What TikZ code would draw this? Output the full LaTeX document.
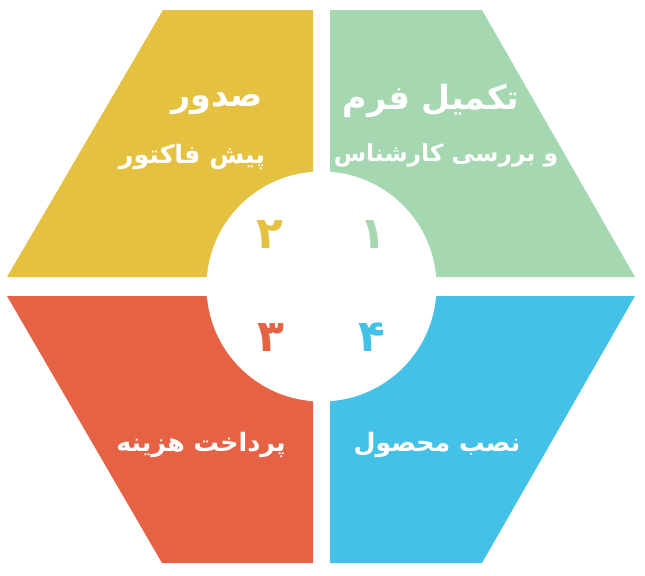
\documentclass[tikz,border=0pt]{standalone}
\usepackage{fontspec}
\newfontfamily\fafont[Script=Arabic]{DejaVu Sans}
\TeXXeTstate=1
\definecolor{cyellow}{RGB}{229,193,66}
\definecolor{cgreen}{RGB}{165,216,176}
\definecolor{cred}{RGB}{230,98,69}
\definecolor{cblue}{RGB}{67,193,230}
\tikzset{
  title/.style={text=white, inner sep=0pt, font=\fafont\bfseries\fontsize{25}{28}\selectfont},
  subtitle/.style={text=white, inner sep=0pt, font=\fafont\bfseries\fontsize{19}{22}\selectfont},
  num/.style={inner sep=0pt, font=\fafont\bfseries\fontsize{33}{36}\selectfont}
}
\begin{document}
\begin{tikzpicture}[x=0.75pt, y=-0.75pt]
    \useasboundingbox (0,0) rectangle (645,575);

    \fill[cyellow] (163,10) -- (313,10) -- (313,277) -- (7,277) -- cycle;
    \fill[cgreen] (330,10) -- (482,10) -- (635,277) -- (330,277) -- cycle;
    \fill[cred] (7,296) -- (313,296) -- (313,563) -- (162,563) -- cycle;
    \fill[cblue] (330,296) -- (635,296) -- (482,563) -- (330,563) -- cycle;
    \fill[white] (321.5,286.5) circle (115);

    \node[title] (sodur) at (217,104) {\beginR صدور\endR};
    \node[subtitle] (factor) at (192,157) {\beginR پیش فاکتور\endR};
    \node[title] (form) at (431,101) {\beginR تکمیل فرم\endR};
    \node[subtitle, font=\fafont\bfseries\fontsize{17.6}{21}\selectfont] (check) at (446,155) {\beginR و بررسی کارشناس\endR};
    \node[subtitle] (pay) at (201,445) {\beginR پرداخت هزینه\endR};
    \node[subtitle] (install) at (437,445) {\beginR نصب محصول\endR};

    \node[num, text=cgreen] (one) at (373,235) {\beginR ۱\endR};
    \node[num, text=cyellow] (two) at (270,235) {\beginR ۲\endR};
    \node[num, text=cred] (three) at (271,338) {\beginR ۳\endR};
    \node[num, text=cblue] (four) at (372,337) {\beginR ۴\endR};
\end{tikzpicture}
\end{document}
